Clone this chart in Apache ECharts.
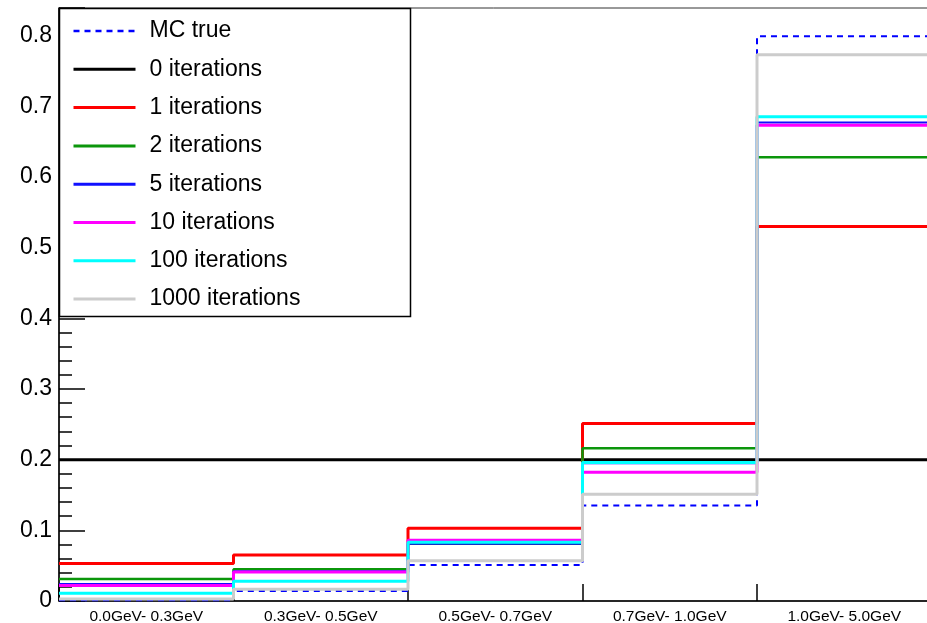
<!DOCTYPE html>
<html>
<head>
<meta charset="utf-8">
<script src="https://cdn.jsdelivr.net/npm/echarts@6/dist/echarts.min.js"></script>
<style>
html,body{margin:0;padding:0;background:#fff;}
#chart{width:927px;height:623px;}
</style>
</head>
<body>
<div id="chart"></div>
<script>
// ---- data ----
var categories = ['0.0GeV- 0.3GeV', '0.3GeV- 0.5GeV', '0.5GeV- 0.7GeV', '0.7GeV- 1.0GeV', '1.0GeV- 5.0GeV'];
var seriesNames = ['MC true', '0 iterations', '1 iterations', '2 iterations', '5 iterations', '10 iterations', '100 iterations', '1000 iterations'];
var mcTrue   = [0.001, 0.014, 0.051, 0.135, 0.799];
var iter0    = [0.200, 0.200, 0.200, 0.200, 0.200];
var iter1    = [0.053, 0.065, 0.103, 0.251, 0.530];
var iter2    = [0.031, 0.045, 0.081, 0.216, 0.628];
var iter5    = [0.024, 0.042, 0.081, 0.195, 0.677];
var iter10   = [0.022, 0.041, 0.086, 0.182, 0.673];
var iter100  = [0.011, 0.028, 0.083, 0.196, 0.685];
var iter1000 = [0.003, 0.0165, 0.057, 0.151, 0.773];
var yTicks = [0, 0.1, 0.2, 0.3, 0.4, 0.5, 0.6, 0.7, 0.8];

var allValues = [mcTrue, iter0, iter1, iter2, iter5, iter10, iter100, iter1000];
var colors = ['#0000ff', '#000000', '#ff0000', '#0b960b', '#1010ff', '#ff00ff', '#00ffff', '#cccccc'];
var widths = [2, 3, 3, 2.5, 2, 3, 3, 3];
var legendWidths = [2.5, 3, 3, 3, 3, 3, 3, 3];

function histData(vals) {
  var d = [];
  for (var i = 0; i < vals.length; i++) d.push([i, vals[i]]);
  d.push([vals.length, vals[vals.length - 1]]);
  return d;
}

var series = allValues.map(function (vals, k) {
  return {
    name: seriesNames[k],
    type: 'line',
    xAxisIndex: 0,
    yAxisIndex: 0,
    step: 'end',
    symbol: 'none',
    showSymbol: false,
    silent: true,
    animation: false,
    data: histData(vals),
    lineStyle: {
      color: colors[k],
      width: widths[k],
      type: k === 0 ? [6, 5] : 'solid',
      cap: 'butt'
    },
    itemStyle: { color: colors[k] },
    z: 2 + k * 0.01
  };
});

var legendData = seriesNames.map(function (n, k) {
  return {
    name: n,
    itemStyle: { opacity: 0 },
    lineStyle: { color: colors[k], width: legendWidths[k], type: k === 0 ? [6, 5] : 'solid', cap: 'butt' }
  };
});

var FONT = 'Liberation Sans, Arial, sans-serif';
var chart = echarts.init(document.getElementById('chart'), null, { renderer: 'canvas' });
chart.setOption({
  backgroundColor: '#ffffff',
  animation: false,
  textStyle: { fontFamily: FONT },
  grid: {
    left: 59, top: 8, width: 872.5, height: 593,
    outerBoundsMode: 'none', containLabel: false,
    show: true, borderColor: '#333', borderWidth: 1, backgroundColor: 'transparent'
  },
  xAxis: [
    {
      type: 'value', min: 0, max: categories.length, interval: 1, position: 'bottom',
      axisLine: { show: true, onZero: false, lineStyle: { color: '#000', width: 1.5 } },
      axisTick: { show: true, inside: true, length: 17, lineStyle: { color: '#000', width: 1.5 } },
      axisLabel: { show: false },
      splitLine: { show: false }
    },
    {
      type: 'category', data: categories, position: 'bottom', boundaryGap: true,
      axisLine: { show: false }, axisTick: { show: false },
      axisLabel: { show: true, fontSize: 15.5, color: '#000', margin: 8, fontFamily: FONT },
      splitLine: { show: false }
    }
  ],
  yAxis: {
    type: 'value', min: 0, max: 0.839, interval: 0.1,
    axisLine: { show: true, lineStyle: { color: '#000', width: 1.5 } },
    axisTick: { show: true, inside: true, length: 26, lineStyle: { color: '#000', width: 1.5 } },
    minorTick: { show: true, splitNumber: 5, length: 13, lineStyle: { color: '#000', width: 1.5 } },
    axisLabel: {
      fontSize: 23, color: '#000', margin: 7, showMaxLabel: false, fontFamily: FONT,
      formatter: function (v) {
        for (var i = 0; i < yTicks.length; i++) if (Math.abs(yTicks[i] - v) < 1e-6) return String(yTicks[i]);
        return '';
      }
    },
    splitLine: { show: false }
  },
  graphic: [{
    type: 'rect', z: 50,
    shape: { x: 59.5, y: 8.5, width: 351, height: 308 },
    style: { fill: '#fff', stroke: '#000', lineWidth: 1.5 }
  }],
  legend: {
    show: true, z: 60, orient: 'vertical', left: 72, top: 19,
    padding: 0, itemGap: 14.3, itemWidth: 62, itemHeight: 24,
    data: legendData,
    selectedMode: false,
    itemStyle: { opacity: 0 },
    textStyle: { fontSize: 23, color: '#000', lineHeight: 24, padding: [0, 0, 0, 9], fontFamily: FONT }
  },
  series: series
});
</script>
</body>
</html>
